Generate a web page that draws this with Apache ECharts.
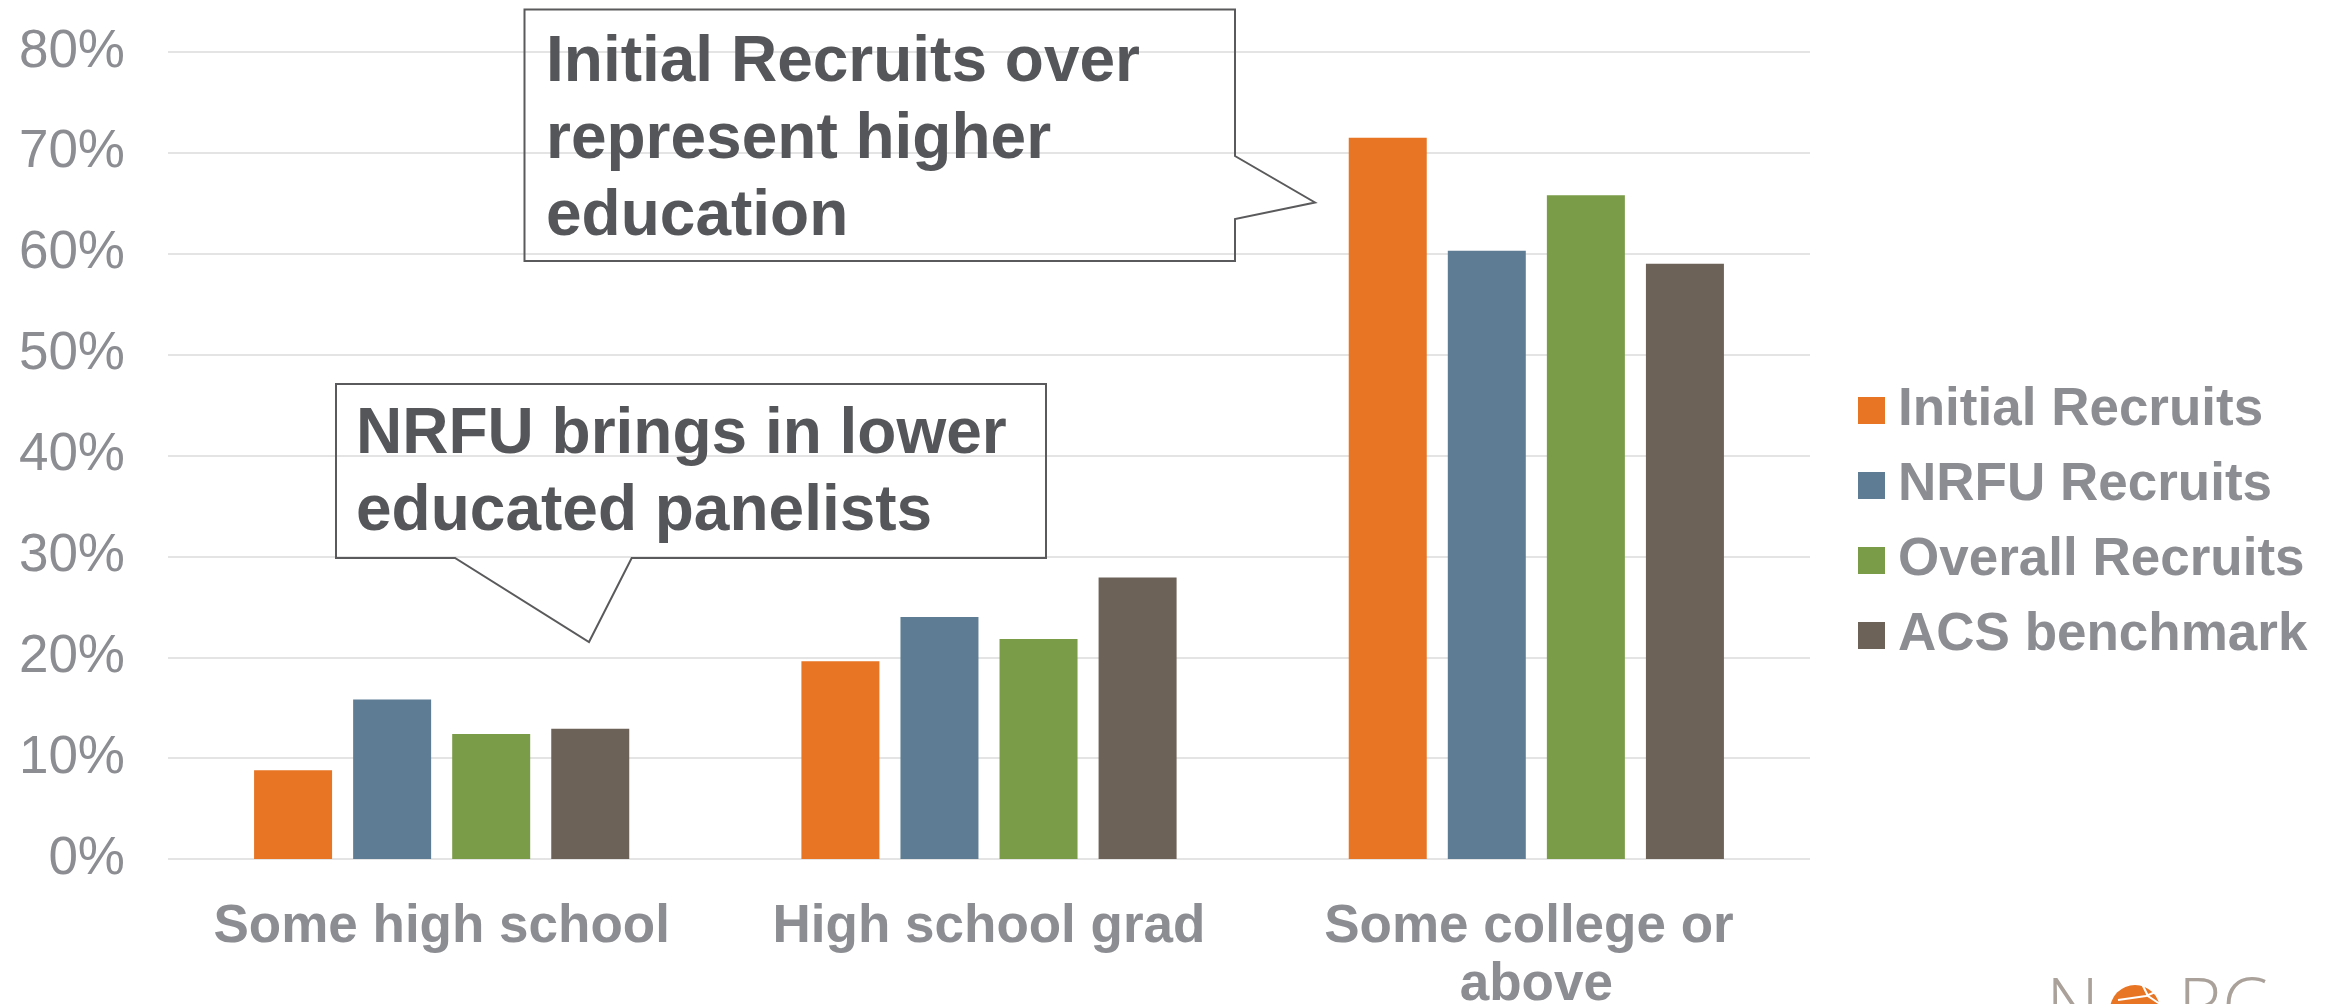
<!DOCTYPE html>
<html>
<head>
<meta charset="utf-8">
<script src="https://cdn.jsdelivr.net/npm/echarts@6/dist/echarts.min.js"></script>
<style>
html,body{margin:0;padding:0;background:#fff;}
#chart{width:2336px;height:1004px;}
</style>
</head>
<body>
<div id="chart"></div>
<script>
const categories = ['Some high school', 'High school grad', 'Some college or above'];
const seriesNames = ['Initial Recruits', 'NRFU Recruits', 'Overall Recruits', 'ACS benchmark'];
const initialRecruits = [8.8, 19.6, 71.5];
const nrfuRecruits = [15.8, 24.0, 60.3];
const overallRecruits = [12.4, 21.8, 65.8];
const acsBenchmark = [12.9, 27.9, 59.0];
const seriesColors = ['#E87524', '#5E7D95', '#7A9C48', '#6D6258'];
const yTicks = { min: 0, max: 80, interval: 10 };
const callout1Lines = ['Initial Recruits over', 'represent higher', 'education'];
const callout2Lines = ['NRFU brings in lower', 'educated panelists'];

const FONT = '"Liberation Sans", Arial, Helvetica, sans-serif';
const GRAY = '#8c8d92';
const DARK = '#555659';

const chart = echarts.init(document.getElementById('chart'));
const allValues = [initialRecruits, nrfuRecruits, overallRecruits, acsBenchmark];

const option = {
  backgroundColor: '#ffffff',
  animation: false,
  grid: { left: 168, right: 526, top: 52, bottom: 145, containLabel: false, outerBoundsMode: 'none' },
  legend: {
    orient: 'vertical',
    left: 1858,
    top: 384,
    padding: 0,
    itemWidth: 27,
    itemHeight: 27,
    itemGap: 22,
    icon: 'rect',
    textStyle: { color: GRAY, fontSize: 53, fontWeight: 'bold', fontFamily: FONT, padding: [0, 0, 0, 8] },
    data: seriesNames
  },
  xAxis: {
    type: 'category',
    data: categories,
    axisLine: { show: false },
    axisTick: { show: false },
    axisLabel: {
      color: GRAY, fontSize: 53, fontWeight: 'bold', fontFamily: FONT,
      margin: 39, lineHeight: 58, width: 500, overflow: 'break', interval: 0
    }
  },
  yAxis: {
    type: 'value',
    min: yTicks.min, max: yTicks.max, interval: yTicks.interval,
    axisLine: { show: false },
    axisTick: { show: false },
    splitLine: { lineStyle: { color: '#e4e4e4', width: 2 } },
    axisLabel: { formatter: '{value}%', color: GRAY, fontSize: 53, fontFamily: FONT, margin: 43 }
  },
  series: seriesNames.map((name, i) => ({
    name: name,
    type: 'bar',
    data: allValues[i],
    barWidth: 78,
    barGap: '27%',
    itemStyle: { color: seriesColors[i] }
  })),
  graphic: [
    {
      type: 'polygon', silent: true, z: 10,
      shape: { points: [[524.5, 9.5], [1235, 9.5], [1235, 156], [1315, 202.5], [1235, 219], [1235, 261], [524.5, 261]] },
      style: { fill: 'none', stroke: '#5a5a5c', lineWidth: 2 }
    },
    {
      type: 'text', silent: true, z: 11, left: 546, top: 25,
      style: { text: callout1Lines.join('\n'), fill: DARK, font: 'bold 64px ' + FONT, lineHeight: 77 }
    },
    {
      type: 'polygon', silent: true, z: 10,
      shape: { points: [[336, 384], [1046, 384], [1046, 558], [631.7, 558], [589, 642], [455, 558], [336, 558]] },
      style: { fill: 'none', stroke: '#5a5a5c', lineWidth: 2 }
    },
    {
      type: 'text', silent: true, z: 11, left: 356, top: 397,
      style: { text: callout2Lines.join('\n'), fill: DARK, font: 'bold 64px ' + FONT, lineHeight: 77 }
    },
    // NORC logo (partially cut off at bottom)
    {
      type: 'text', silent: true, z: 5, left: 2046, top: 973,
      style: { text: 'N', fill: '#a9a19a', font: '300 74px "Open Sans", ' + FONT }
    },
    {
      type: 'circle', silent: true, z: 5,
      shape: { cx: 2135, cy: 1010, r: 25 },
      style: { fill: '#E87524' }
    },
    {
      type: 'polyline', silent: true, z: 6,
      shape: { points: [[2118, 1000], [2146, 996], [2160, 990]] },
      style: { stroke: '#ffffff', lineWidth: 2, fill: 'none' }
    },
    {
      type: 'polyline', silent: true, z: 6,
      shape: { points: [[2142, 984], [2148, 996], [2160, 1004]] },
      style: { stroke: '#ffffff', lineWidth: 2, fill: 'none' }
    },
    {
      type: 'text', silent: true, z: 5, left: 2178, top: 973,
      style: { text: 'RC', fill: '#a9a19a', font: '300 74px "Open Sans", ' + FONT }
    }
  ]
};
chart.setOption(option);
</script>
</body>
</html>
